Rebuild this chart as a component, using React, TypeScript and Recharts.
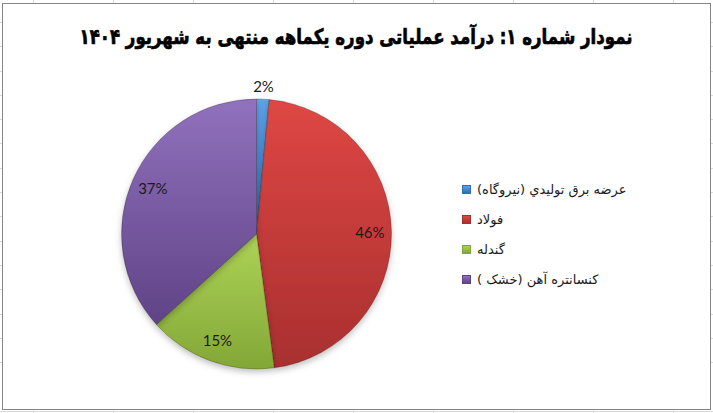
import { Cell, Legend, Pie, PieChart } from 'recharts';

const TITLE = 'نمودار شماره ۱: درآمد عملیاتی دوره یکماهه منتهی به شهریور ۱۴۰۴';

const SEGMENTS = ['عرضه برق توليدي (نيروگاه)', 'فولاد', 'گندله', 'کنسانتره آهن (خشک )'];
const SHARES = [1.5, 46.4, 15.4, 36.7];

const FILLS = [
  { top: '#5ea3ea', bottom: '#2e6cb3' },
  { top: '#de4744', bottom: '#a92f2f' },
  { top: '#aed356', bottom: '#83a737' },
  { top: '#9171bd', bottom: '#5f4386' },
];

const data = SEGMENTS.map((name, i) => ({ name, value: SHARES[i] }));

const RAD = Math.PI / 180;

function renderLabel(props: any) {
  const { cx, cy, midAngle, outerRadius, percent } = props;
  const r = percent < 0.05 ? outerRadius * 1.1 : outerRadius * 0.84;
  const x = cx + r * Math.cos(-midAngle * RAD);
  const y = cy + r * Math.sin(-midAngle * RAD);
  return (
    <text
      x={x}
      y={y}
      textAnchor="middle"
      dominantBaseline="central"
      fill="#1a1a1a"
      style={{ fontFamily: 'Lato, sans-serif', fontSize: 15 }}
    >
      {`${Math.round(percent * 100 + 1e-9)}%`}
    </text>
  );
}

function renderLegend() {
  return (
    <div style={{ fontFamily: '"DejaVu Sans", sans-serif', fontSize: 13, color: '#1a1a1a' }}>
      {SEGMENTS.map((name, i) => (
        <div key={name} style={{ display: 'flex', alignItems: 'center', height: 30 }}>
          <span
            style={{
              width: 7,
              height: 7,
              marginRight: 6,
              flexShrink: 0,
              border: `1px solid ${FILLS[i].bottom}`,
              background: `linear-gradient(${FILLS[i].top}, ${FILLS[i].bottom})`,
            }}
          />
          <span dir="rtl">{name}</span>
        </div>
      ))}
    </div>
  );
}

export default function App() {
  return (
    <div
      style={{
        position: 'absolute',
        left: 0,
        top: 0,
        width: 713,
        height: 413,
        background:
          'repeating-linear-gradient(to right, transparent 0 33px, #d9d9d9 33px 34px, transparent 34px 80px), repeating-linear-gradient(to bottom, transparent 0 22px, #d9d9d9 22px 23px, transparent 23px 24.3px), #fff',
      }}
    >
      <div
        style={{
          position: 'absolute',
          left: 2,
          top: 3,
          width: 709,
          height: 407,
          boxSizing: 'border-box',
          border: '1px solid #868686',
          background: '#fff',
        }}
      >
        <div
          dir="rtl"
          style={{
            position: 'absolute',
            left: 0,
            right: 0,
            top: 21,
            textAlign: 'center',
            fontFamily: '"DejaVu Sans", sans-serif',
            fontWeight: 'bold',
            fontSize: 21,
            color: '#000',
            WebkitTextStroke: '0.7px #000',
            transform: 'translateX(-1px) scaleX(0.79)',
            transformOrigin: '356px 0',
          }}
        >
          {TITLE}
        </div>
        <PieChart width={707} height={405}>
          <defs>
            {FILLS.map((f, i) => (
              <linearGradient key={i} id={`slice-${i}`} x1="0" y1="0" x2="0" y2="1">
                <stop offset="0%" stopColor={f.top} />
                <stop offset="100%" stopColor={f.bottom} />
              </linearGradient>
            ))}
            <filter id="pie-shadow" x="-10%" y="-10%" width="120%" height="125%">
              <feDropShadow dx="0" dy="3" stdDeviation="3" floodColor="#000" floodOpacity="0.25" />
            </filter>
          </defs>
          <Pie
            data={data}
            dataKey="value"
            nameKey="name"
            cx={248.5}
            cy={225}
            outerRadius={135}
            startAngle={90}
            endAngle={-270}
            label={renderLabel}
            labelLine={false}
            isAnimationActive={false}
            stroke="rgba(0,0,0,0.3)"
            strokeWidth={0.75}
            style={{ filter: 'url(#pie-shadow)' }}
          >
            {data.map((entry, i) => (
              <Cell key={entry.name} fill={`url(#slice-${i})`} />
            ))}
          </Pie>
          <Legend
            layout="vertical"
            content={renderLegend}
            wrapperStyle={{ position: 'absolute', left: 459, top: 170, width: 230 }}
          />
        </PieChart>
      </div>
    </div>
  );
}
